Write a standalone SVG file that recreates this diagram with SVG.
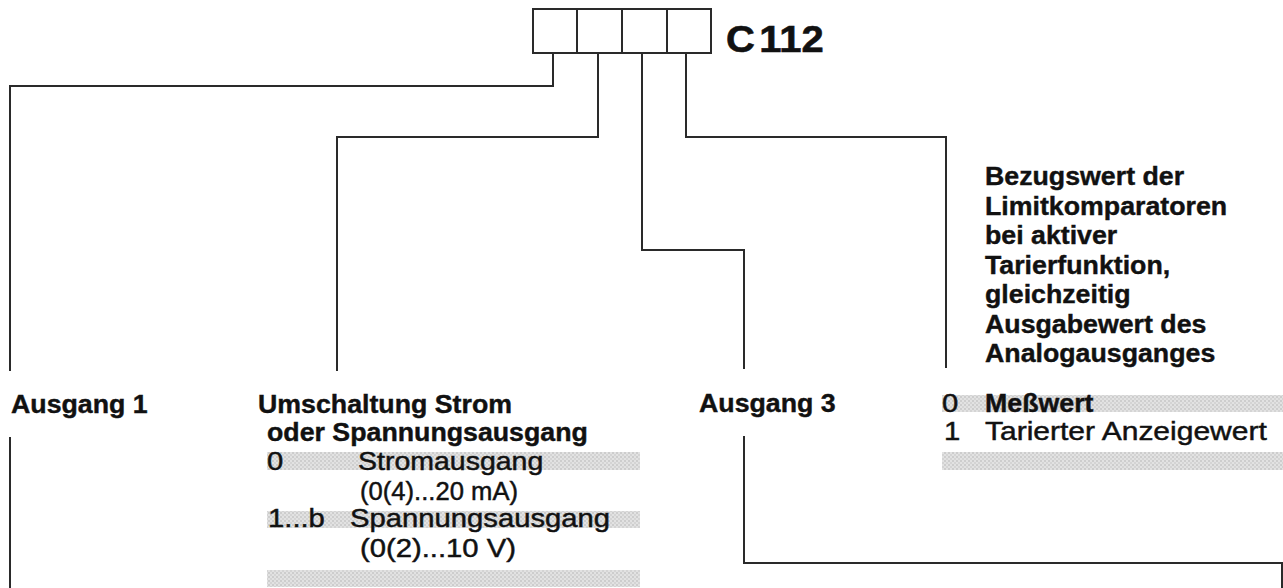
<svg xmlns="http://www.w3.org/2000/svg" width="1283" height="588" viewBox="0 0 1283 588">
<defs>
<pattern id="stip" width="4" height="4" patternUnits="userSpaceOnUse">
<rect width="4" height="4" fill="#e2e2e2"/>
<circle cx="1" cy="1" r="0.8" fill="#b4b4b4"/>
<circle cx="3" cy="3" r="0.8" fill="#c4c4c4"/>
</pattern>
</defs>
<style>
.b{font-family:"Liberation Sans",Arial,sans-serif;font-weight:bold;font-size:25px;fill:#111;stroke:#111;stroke-width:0.4}
.r{font-family:"Liberation Sans",Arial,sans-serif;font-size:25px;fill:#111;stroke:#111;stroke-width:0.45}
.ln{fill:none;stroke:#2a2a2a;stroke-width:2}
.band{fill:url(#stip)}
.box{fill:#fff;stroke:#2a2a2a;stroke-width:2}
</style>
<rect width="1283" height="588" fill="#fff"/>

<g id="connectors" class="ln">
<path d="M553,53 V86 H10 V371"/>
<path d="M10,437 V588"/>
<path d="M598,53 V137 H337 V371"/>
<path d="M642,53 V250 H744 V369"/>
<path d="M744,436 V563 H1282 V588"/>
<path d="M686,53 V137 H946 V368"/>
</g>

<g id="code-boxes">
<rect class="box" x="533" y="9" width="178" height="44"/>
<path class="ln" d="M577,9 V53 M622,9 V53 M667,9 V53"/>
<text class="b" style="font-size:37px;stroke-width:0.6" transform="translate(726 52) scale(1.08 1)">C<tspan dx="4">112</tspan></text>
</g>

<g id="ausgang1">
<text class="b" transform="translate(11 413) scale(1.07 1)">Ausgang 1</text>
</g>

<g id="umschaltung">
<rect class="band" x="267" y="452" width="373" height="18"/>
<rect class="band" x="267" y="511" width="373" height="17"/>
<rect class="band" x="267" y="570" width="373" height="17"/>
<text class="b" transform="translate(258 413) scale(1.07 1)">Umschaltung Strom</text>
<text class="b" transform="translate(267 441) scale(1.07 1)">oder Spannungsausgang</text>
<text class="r" transform="translate(267 470) scale(1.17 1)">0</text>
<text class="r" transform="translate(358 470) scale(1.14 1)">Stromausgang</text>
<text class="r" x="360" y="500" textLength="158" lengthAdjust="spacingAndGlyphs">(0(4)...20 mA)</text>
<text class="r" transform="translate(268 527) scale(1.17 1)">1...b</text>
<text class="r" transform="translate(350 527) scale(1.17 1)">Spannungsausgang</text>
<text class="r" x="360" y="557" textLength="156" lengthAdjust="spacingAndGlyphs">(0(2)...10 V)</text>
</g>

<g id="ausgang3">
<text class="b" transform="translate(699 412) scale(1.07 1)">Ausgang 3</text>
</g>

<g id="bezugswert">
<rect class="band" x="942" y="395" width="341" height="17"/>
<rect class="band" x="942" y="452" width="341" height="18"/>
<text class="b" transform="translate(985 185) scale(1.07 1)">Bezugswert der</text>
<text class="b" transform="translate(985 214.5) scale(1.07 1)">Limitkomparatoren</text>
<text class="b" transform="translate(985 244) scale(1.07 1)">bei aktiver</text>
<text class="b" transform="translate(985 273.5) scale(1.07 1)">Tarierfunktion,</text>
<text class="b" transform="translate(985 303) scale(1.07 1)">gleichzeitig</text>
<text class="b" transform="translate(985 332.5) scale(1.07 1)">Ausgabewert des</text>
<text class="b" transform="translate(985 362) scale(1.07 1)">Analogausganges</text>
<text class="r" transform="translate(942 412) scale(1.17 1)">0</text>
<text class="b" transform="translate(985 412) scale(1.07 1)">Meßwert</text>
<text class="r" transform="translate(944 440) scale(1.17 1)">1</text>
<text class="r" transform="translate(985 440) scale(1.2 1)">Tarierter Anzeigewert</text>
</g>
</svg>
